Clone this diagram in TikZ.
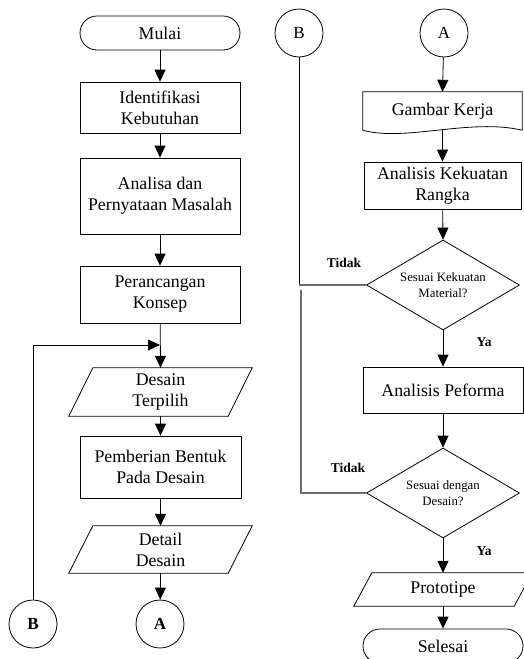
\documentclass[tikz,border=0pt]{standalone}
\usepackage{fontspec}
\setmainfont{Liberation Serif}
\usetikzlibrary{arrows.meta,shapes.geometric,calc}
\begin{document}
\begin{tikzpicture}[x=1pt,y=-1pt,
  box/.style={draw, line width=0.8pt, minimum width=160pt, align=center, inner sep=2pt, font=\fontsize{17.8}{21}\selectfont},
  term/.style={box, minimum height=34pt, rounded corners=17pt},
  bare/.style={align=center, inner sep=0pt, font=\fontsize{17.8}{21}\selectfont},
  dec/.style={draw, line width=0.8pt, diamond, shape aspect=1.7, minimum width=153pt, minimum height=90pt, inner sep=0pt, align=center, font=\fontsize{12.8}{16}\selectfont},
  conn/.style={draw, line width=0.8pt, circle, minimum size=48pt, inner sep=0pt, font=\fontsize{17}{20}\selectfont},
  lbl/.style={font=\fontsize{13.5}{16}\selectfont\bfseries, inner sep=0pt},
  arr/.style={-{Triangle[width=11pt,length=12pt]}, line width=0.8pt},
  gline/.style={line width=1.2pt, draw=black!58},
  shape line/.style={line width=0.8pt}]
\useasboundingbox (0,0) rectangle (524,659);
\clip (0,0) rectangle (524,659);

% ---------- left column ----------
\node[term] (mulai) at (160,33) {Mulai};
\node[box, minimum height=51pt] (ident) at (160,107.5) {Identifikasi\\Kebutuhan};
\node[box, minimum height=76pt] (anal) at (160,196) {Analisa dan\\Pernyataan Masalah};
\node[box, minimum height=57pt] (peran) at (160,294.5) {Perancangan\\Konsep};
\coordinate (merge) at (160,345);
\node[bare, minimum width=159pt, minimum height=48pt] (dter) at (160.5,392) {Desain\\Terpilih};
\draw[shape line] ($(dter.north west)+(12,0)$) -- ($(dter.north east)+(12,0)$) -- ($(dter.south east)+(-12,0)$) -- ($(dter.south west)+(-12,0)$) -- cycle;
\node[box, minimum width=161pt, minimum height=62pt] (pemb) at (160.5,467) {Pemberian Bentuk\\Pada Desain};
\node[bare, minimum width=159pt, minimum height=47pt] (det) at (160.5,549.5) {Detail\\Desain};
\draw[shape line] ($(det.north west)+(12,0)$) -- ($(det.north east)+(12,0)$) -- ($(det.south east)+(-12,0)$) -- ($(det.south west)+(-12,0)$) -- cycle;
\node[conn] (aL) at (160,624) {\textbf{A}};
\node[conn] (bL) at (33,624) {\textbf{B}};

\draw[arr] (mulai) -- (ident);
\draw[arr] (ident) -- (anal);
\draw[arr] (anal) -- (peran);
\draw[arr] (peran) -- (dter.north);
\draw[arr] (bL.north) |- (merge);
\draw[arr] (dter.south) -- (pemb);
\draw[arr] (pemb) -- (det.north);
\draw[arr] (det.south) -- (aL);

% ---------- right column ----------
\node[conn] (bR) at (299,33) {B};
\node[conn] (aR) at (444,33) {A};
\node[bare, minimum width=159pt, minimum height=38pt] (gk) at (442.5,111) {Gambar Kerja};
\draw[shape line] (gk.north west) -- (gk.north east) -- (gk.south east)
  .. controls (470,118) and (405,142) .. (gk.south west) -- cycle;
\node[box, minimum width=157pt, minimum height=47pt] (ak) at (442.5,185.5) {Analisis Kekuatan\\Rangka};
\node[dec] (d1) at (443,285) {Sesuai Kekuatan\\Material?};
\node[box, minimum width=160pt, minimum height=46pt] (ap) at (443,390) {Analisis Peforma};
\node[dec] (d2) at (443,493) {Sesuai dengan\\Desain?};
\node[bare, minimum width=160pt, minimum height=33pt] (pro) at (443,589.5) {Prototipe};
\draw[shape line] ($(pro.north west)+(9,0)$) -- ($(pro.north east)+(9,0)$) -- ($(pro.south east)+(-9,0)$) -- ($(pro.south west)+(-9,0)$) -- cycle;
\node[term] (sel) at (443,646) {Selesai};

\coordinate (j1) at (299,285);
\coordinate (j2) at (301,290);

\draw[arr] (aR) -- (gk.north);
\draw[arr] (gk.south) -- (ak);
\draw[arr] (ak) -- (d1.north);
\draw[arr] (d1.south) -- (ap);
\draw[arr] (ap) -- (d2.north);
\draw[arr] (d2.south) -- (pro.north);
\draw[arr] (pro.south) -- (sel);

\draw[line width=0.8pt] (bR.south) -- (j1);
\draw[gline] (j1) -- (d1.west);
\draw[gline] (d2.west) -| (j2);

\node[lbl] (t1) at (344,263) {Tidak};
\node[lbl] (t2) at (348,468) {Tidak};
\node[lbl] (y1) at (484,342) {Ya};
\node[lbl] (y2) at (484,551) {Ya};
\end{tikzpicture}
\end{document}
